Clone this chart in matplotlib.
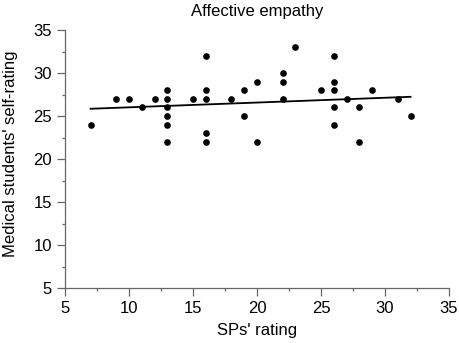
import numpy as np
import matplotlib.pyplot as plt
from matplotlib.ticker import MultipleLocator

plt.rcParams['font.family'] = ['Liberation Sans', 'DejaVu Sans']

sp_rating = [7, 9, 10, 11, 12,
             13, 13, 13, 13, 13, 13,
             15,
             16, 16, 16, 16, 16,
             18, 19, 19, 20, 20,
             22, 22, 22, 23, 25,
             26, 26, 26, 26, 26,
             27, 28, 28, 29, 31, 32]
self_rating = [24, 27, 27, 26, 27,
               28, 27, 26, 25, 24, 22,
               27,
               32, 28, 27, 23, 22,
               27, 28, 25, 29, 22,
               30, 29, 27, 33, 28,
               32, 29, 28, 26, 24,
               27, 26, 22, 28, 27, 25]

# linear fit (intercept, slope) drawn over the range of ratings
fit_intercept = 25.46
fit_slope = 0.0556

x = np.array(sp_rating, dtype=float)
y = np.array(self_rating, dtype=float)

fig = plt.figure(figsize=(4.6, 3.43), dpi=100)
ax = fig.add_axes([0.1413, 0.1603, 0.8347, 0.752])

ax.plot(x, y, 'o', color='black', markersize=4.8, markeredgewidth=0)
xs = np.array([x.min(), x.max()])
ax.plot(xs, fit_intercept + fit_slope * xs, color='black', lw=1.3)

ax.set_xlim(5, 35)
ax.set_ylim(5, 35)
ax.xaxis.set_major_locator(MultipleLocator(5))
ax.yaxis.set_major_locator(MultipleLocator(5))
ax.xaxis.set_minor_locator(MultipleLocator(2.5))
ax.yaxis.set_minor_locator(MultipleLocator(2.5))

for side in ('top', 'right'):
    ax.spines[side].set_visible(False)
for side in ('left', 'bottom'):
    ax.spines[side].set_color('#666666')
    ax.spines[side].set_linewidth(0.9)
ax.tick_params(which='major', length=5.5, width=0.9, color='#666666',
               labelsize=12, pad=4)
ax.tick_params(which='minor', length=2.5, width=0.9, color='#666666')

ax.set_xlabel("SPs' rating", fontsize=12, labelpad=5)
ax.set_ylabel("Medical students' self-rating", fontsize=12)
ax.yaxis.set_label_coords(-0.122, 0.52)
ax.set_title('Affective empathy', fontsize=12, pad=10)

fig.savefig('out.png', dpi=100)
